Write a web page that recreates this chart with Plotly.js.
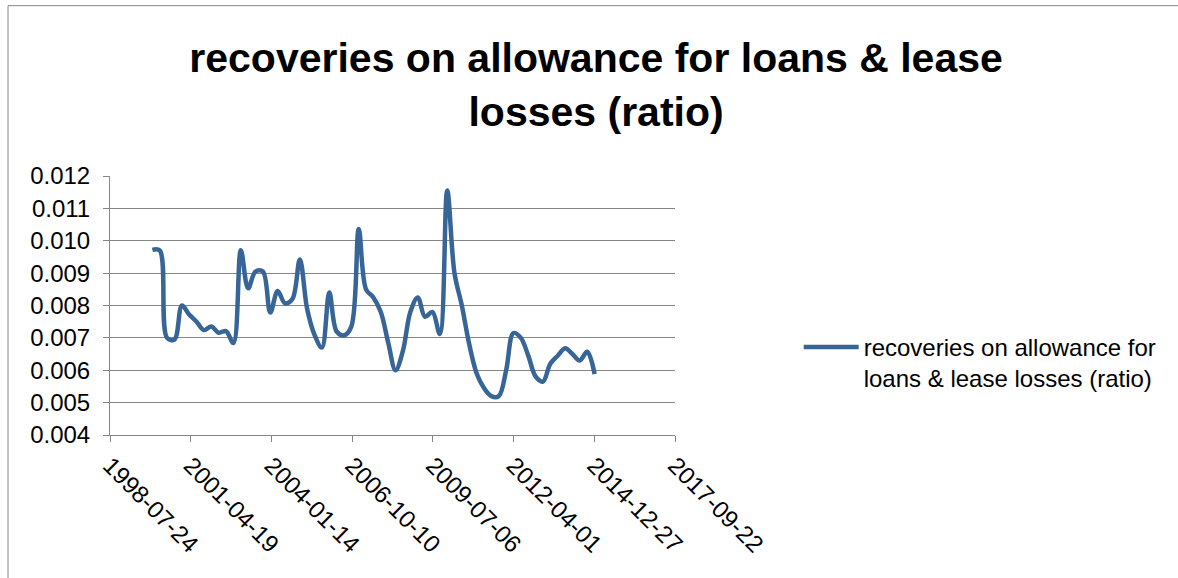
<!DOCTYPE html>
<html>
<head>
<meta charset="utf-8">
<script src="https://cdn.plot.ly/plotly-3.0.1.min.js"></script>
<style>html,body{margin:0;padding:0;background:#fff;}#chart{width:1178px;height:578px;}</style>
</head>
<body>
<div id="chart"></div>
<script>
const seriesName = "recoveries on allowance for loans & lease losses (ratio)";
const legendLabel = "recoveries on allowance for<br>loans & lease losses (ratio)";
const titleText = "recoveries on allowance for loans & lease<br>losses (ratio)";

const dates = [
  "1999-12-31","2000-03-31","2000-06-30","2000-09-30","2000-12-31",
  "2001-03-31","2001-06-30","2001-09-30","2001-12-31",
  "2002-03-31","2002-06-30","2002-09-30","2002-12-31",
  "2003-03-31","2003-06-30","2003-09-30","2003-12-31",
  "2004-03-31","2004-06-30","2004-09-30","2004-12-31",
  "2005-03-31","2005-06-30","2005-09-30","2005-12-31",
  "2006-03-31","2006-06-30","2006-09-30","2006-12-31",
  "2007-03-31","2007-06-30","2007-09-30","2007-12-31",
  "2008-03-31","2008-06-30","2008-09-30","2008-12-31",
  "2009-03-31","2009-06-30","2009-09-30","2009-12-31",
  "2010-03-31","2010-06-30","2010-09-30","2010-12-31",
  "2011-03-31","2011-06-30","2011-09-30","2011-12-31",
  "2012-03-31","2012-06-30","2012-09-30","2012-12-31",
  "2013-03-31","2013-06-30","2013-09-30","2013-12-31",
  "2014-03-31","2014-06-30","2014-09-30","2014-12-31"
];

const ratios = [
  0.00972, 0.00970, 0.00700, 0.00695, 0.00800,
  0.00772, 0.00750, 0.00724, 0.00735,
  0.00716, 0.00721, 0.00684, 0.00971,
  0.00853, 0.00905, 0.00905, 0.00778,
  0.00845, 0.00807, 0.00820, 0.00942,
  0.00790, 0.00710, 0.00670, 0.00840,
  0.00720, 0.00708, 0.00735, 0.01036,
  0.00850, 0.00825, 0.00780, 0.00685,
  0.00600, 0.00660, 0.00780, 0.00825,
  0.00765, 0.00780, 0.00712, 0.01155,
  0.00900, 0.00800, 0.00680, 0.00590,
  0.00545, 0.00520, 0.00520, 0.00600,
  0.00715, 0.00700, 0.00645, 0.00580,
  0.00565, 0.00620, 0.00645, 0.00668,
  0.00650, 0.00630, 0.00657, 0.00588
];

const xRange = ["1998-07-24", "2017-09-22"];
const xTick0 = "1998-07-24";
const xTickStepDays = 1000;
const yRange = [0.004, 0.012];
const yTickStep = 0.001;

const gray = "#868686";
const font = "Liberation Sans, Arial, sans-serif";

const trace = {
  x: dates,
  y: ratios,
  type: "scatter",
  mode: "lines",
  name: legendLabel,
  line: {color: "#386597", width: 4.5, shape: "spline", smoothing: 1},
  hoverinfo: "x+y"
};

const layout = {
  width: 1178,
  height: 578,
  paper_bgcolor: "#ffffff",
  plot_bgcolor: "#ffffff",
  margin: {l: 110, r: 503, t: 176, b: 143, pad: 0},
  font: {family: font, color: "#000000", size: 24},
  title: {
    text: titleText,
    font: {family: font, size: 41, color: "#000000", weight: "bold"},
    x: 0.506, xanchor: "center", xref: "container",
    y: 0.875, yanchor: "top", yref: "container"
  },
  xaxis: {
    type: "date",
    range: xRange,
    tick0: xTick0,
    dtick: xTickStepDays * 86400000,
    tickformat: "%Y-%m-%d",
    tickangle: 45,
    showgrid: false,
    showline: true,
    linecolor: gray,
    linewidth: 1,
    ticks: "outside",
    ticklen: 6,
    tickcolor: gray,
    tickfont: {family: font, size: 24, color: "#000000"},
    zeroline: false,
    fixedrange: true
  },
  yaxis: {
    range: yRange,
    tick0: yRange[0],
    dtick: yTickStep,
    tickformat: ".3f",
    showgrid: true,
    gridcolor: gray,
    gridwidth: 1,
    showline: true,
    linecolor: gray,
    linewidth: 1,
    ticks: "outside",
    ticklen: 6,
    tickcolor: gray,
    ticklabelstandoff: 8,
    tickfont: {family: font, size: 24, color: "#000000"},
    zeroline: false,
    fixedrange: true
  },
  showlegend: true,
  legend: {
    xref: "container", yref: "container",
    x: 0.678, xanchor: "left",
    y: 0.438, yanchor: "top",
    valign: "top",
    font: {family: font, size: 24, color: "#000000"},
    bgcolor: "rgba(0,0,0,0)",
    itemwidth: 55,
    tracegroupgap: 0
  },
  shapes: [
    {type: "line", xref: "paper", yref: "paper", x0: -0.1805, x1: -0.1805, y0: 1.6576, y1: -0.56, line: {color: gray, width: 1}},
    {type: "line", xref: "paper", yref: "paper", x0: -0.1805, x1: 1.90, y0: 1.6576, y1: 1.6576, line: {color: gray, width: 1}}
  ]
};

Plotly.newPlot("chart", [trace], layout, {displayModeBar: false, staticPlot: true});
</script>
</body>
</html>
